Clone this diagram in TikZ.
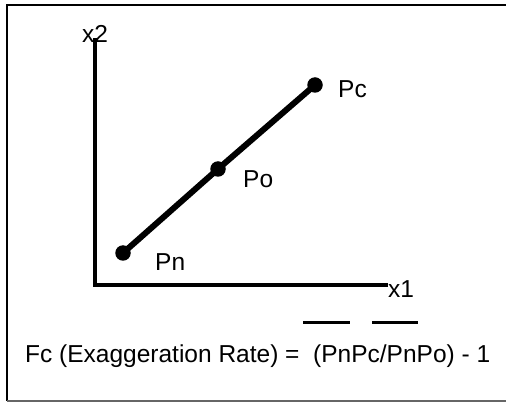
\documentclass[tikz,border=0pt]{standalone}
\usepackage{fontspec}
\setmainfont{Liberation Sans}
\begin{document}
\begin{tikzpicture}[x=1pt,y=-1pt,
  lbl/.style={inner sep=0pt,anchor=base west,font=\fontsize{24.5}{28}\selectfont},
  dot/.style={circle,fill=black,inner sep=0pt,minimum size=15.5pt},
  axis/.style={line width=3.5pt,line join=miter},
  seg/.style={line width=6pt},
  bar/.style={line width=3pt}]
\useasboundingbox (0,0) rectangle (506,403);
% frame
\draw[line width=2pt] (506,5) -- (7,5) -- (7,401);
\draw[line width=1.5pt,black!60] (7,401) -- (506,401);
% axes
\coordinate (ytop) at (95,38);
\coordinate (O) at (95,285);
\coordinate (xend) at (388,285);
\draw[axis] (ytop) -- (O) -- (xend);
\node[lbl,anchor=base] (x2) at (95,43) {x2};
\node[lbl] (x1) at (388,298) {x1};
% points
\node[dot] (Pn) at (123,253) {};
\node[dot] (Po) at (218,169) {};
\node[dot] (Pc) at (315,85) {};
\draw[seg] (Pn.center) -- (Po.center) -- (Pc.center);
\node[lbl] (lPc) at (338,98) {Pc};
\node[lbl] (lPo) at (243,188) {Po};
\node[lbl] (lPn) at (155,271) {Pn};
% formula
\node[lbl] (fc) at (25,362) {Fc (Exaggeration Rate) =\ \ (PnPc/PnPo) - 1};
\draw[bar] (303,323) -- (350,323);
\draw[bar] (372,323) -- (418,323);
\end{tikzpicture}
\end{document}
